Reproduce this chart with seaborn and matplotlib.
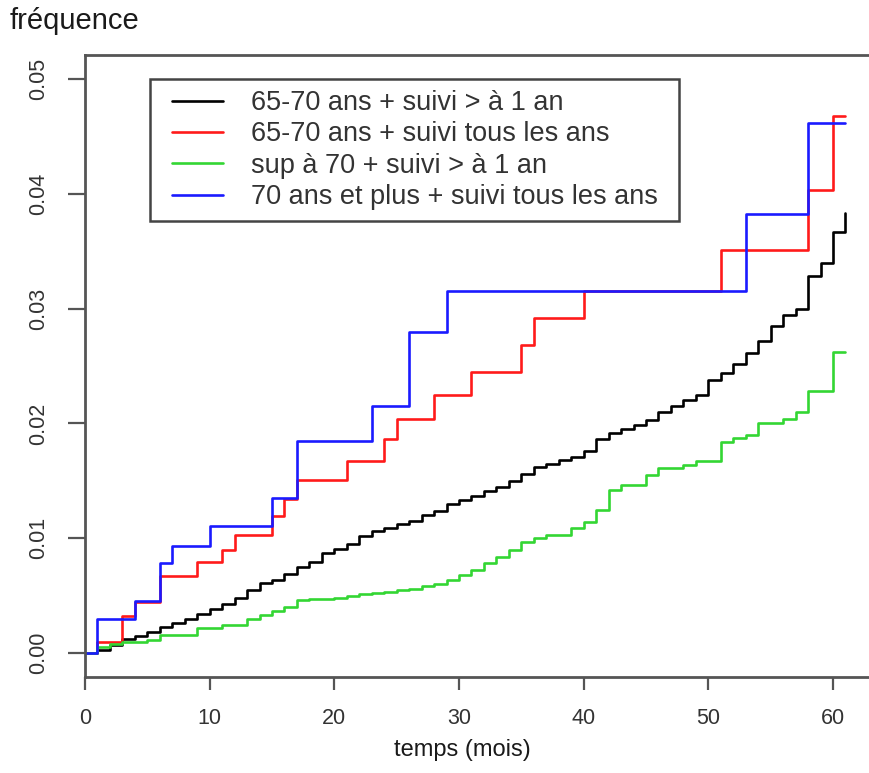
import matplotlib
matplotlib.use("Agg")
import matplotlib.pyplot as plt
import numpy as np
import pandas as pd
import seaborn as sns
from matplotlib.patches import Rectangle

# Monthly cumulative frequency, groups followed at intervals > 1 year
months = list(range(0, 62))
freq_6570_gt1 = [
    0.0000, 0.0003, 0.0007, 0.0012, 0.0015, 0.0018, 0.0023, 0.0026, 0.0030, 0.0034,
    0.0038, 0.0043, 0.0048, 0.0055, 0.0061, 0.0064, 0.0069, 0.0075, 0.0079, 0.0087,
    0.0091, 0.0095, 0.0102, 0.0106, 0.0109, 0.0112, 0.0115, 0.0120, 0.0124, 0.0130,
    0.0133, 0.0137, 0.0141, 0.0145, 0.0150, 0.0156, 0.0162, 0.0165, 0.0168, 0.0171,
    0.0176, 0.0186, 0.0192, 0.0195, 0.0199, 0.0203, 0.0210, 0.0215, 0.0220, 0.0225,
    0.0238, 0.0244, 0.0252, 0.0261, 0.0272, 0.0285, 0.0294, 0.0300, 0.0328, 0.0340,
    0.0367, 0.0383,
]
freq_sup70_gt1 = [
    0.0000, 0.0005, 0.0008, 0.0010, 0.0010, 0.0011, 0.0016, 0.0016, 0.0016, 0.0022,
    0.0022, 0.0024, 0.0024, 0.0030, 0.0033, 0.0037, 0.0040, 0.0046, 0.0047, 0.0047,
    0.0048, 0.0050, 0.0051, 0.0052, 0.0053, 0.0055, 0.0056, 0.0058, 0.0060, 0.0064,
    0.0068, 0.0072, 0.0078, 0.0084, 0.0090, 0.0097, 0.0100, 0.0103, 0.0103, 0.0109,
    0.0114, 0.0125, 0.0142, 0.0146, 0.0146, 0.0155, 0.0161, 0.0161, 0.0164, 0.0167,
    0.0167, 0.0184, 0.0187, 0.0190, 0.0200, 0.0200, 0.0204, 0.0210, 0.0228, 0.0228,
    0.0262, 0.0262,
]

# Groups followed every year: event times and cumulative frequency
t_6570_annual = [0, 1, 3, 4, 6, 9, 11, 12, 15, 16, 17, 21, 24, 25, 28, 31, 35, 36, 40, 51, 58, 60, 61]
freq_6570_annual = [0.0000, 0.0010, 0.0032, 0.0044, 0.0067, 0.0079, 0.0090, 0.0103, 0.0119,
                    0.0134, 0.0151, 0.0167, 0.0186, 0.0204, 0.0225, 0.0245, 0.0268, 0.0292,
                    0.0315, 0.0351, 0.0403, 0.0468, 0.0468]
t_70plus_annual = [0, 1, 4, 6, 7, 10, 15, 17, 23, 26, 29, 53, 58, 61]
freq_70plus_annual = [0.0000, 0.0030, 0.0045, 0.0078, 0.0093, 0.0111, 0.0135, 0.0185,
                      0.0215, 0.0280, 0.0315, 0.0382, 0.0462, 0.0462]

groups = [
    "65-70 ans + suivi > à 1 an",
    "65-70 ans + suivi tous les ans",
    "sup à 70 + suivi > à 1 an",
    "70 ans et plus + suivi tous les ans",
]
colors = ["#000000", "#ff1a1a", "#33d633", "#1a1aff"]

x_ticks = [0, 10, 20, 30, 40, 50, 60]
y_ticks = [0.00, 0.01, 0.02, 0.03, 0.04, 0.05]

frames = [
    pd.DataFrame({"t": months, "f": freq_6570_gt1, "groupe": groups[0]}),
    pd.DataFrame({"t": t_6570_annual, "f": freq_6570_annual, "groupe": groups[1]}),
    pd.DataFrame({"t": months, "f": freq_sup70_gt1, "groupe": groups[2]}),
    pd.DataFrame({"t": t_70plus_annual, "f": freq_70plus_annual, "groupe": groups[3]}),
]
data = pd.concat(frames, ignore_index=True)

sns.set_style("white")
plt.rcParams["font.family"] = ["Liberation Sans", "DejaVu Sans"]

W, H = 869, 773
fig = plt.figure(figsize=(W / 100, H / 100), dpi=100)
left_px, right_px, top_px, bottom_px = 85, 880, 55, 677
ax = fig.add_axes([left_px / W, 1 - bottom_px / H,
                   (right_px - left_px) / W, (bottom_px - top_px) / H])

sns.lineplot(data=data, x="t", y="f", hue="groupe", hue_order=groups,
             palette=colors, drawstyle="steps-post", estimator=None,
             linewidth=1.9, legend=False, ax=ax)

px_per_month = (833 - 85) / 60
ax.set_xlim(0, (right_px - left_px) / px_per_month)
px_per_unit = (653 - 79) / 0.05
ax.set_ylim(-(bottom_px - 653) / px_per_unit, 0.05 + (79 - top_px) / px_per_unit)

ax.set_xticks(x_ticks)
ax.set_xticklabels([f"{v:d}" for v in x_ticks])
ax.set_yticks(y_ticks)
ax.set_yticklabels([f"{v:.2f}" for v in y_ticks], rotation=90, va="center")

ax.tick_params(axis="x", length=9.5, width=1.6, color="#555555", pad=13,
               labelsize=15.5, labelcolor="#333333", direction="out", bottom=True)
ax.tick_params(axis="y", length=12, width=1.6, color="#555555", pad=14,
               labelsize=15.5, labelcolor="#333333", direction="out", left=True)
for side in ["left", "bottom", "top", "right"]:
    ax.spines[side].set_color("#555555")
    ax.spines[side].set_linewidth(2.0)

ax.set_xlabel("")
ax.set_ylabel("")
fig.text(462 / W, 1 - 750 / H, "temps (mois)", fontsize=17, color="#1a1a1a",
         ha="center", va="center")
fig.text(10 / W, 1 - 21 / H, "fréquence", fontsize=21, color="#1a1a1a",
         ha="left", va="center")

handles = ax.get_lines()[:4]
leg = ax.legend(handles, groups, loc="upper left",
                bbox_to_anchor=(172 / W, 1 - 90 / H), bbox_transform=fig.transFigure,
                frameon=False, fontsize=19.5, handlelength=1.9, handletextpad=1.0,
                labelspacing=0.2, borderpad=0.0, borderaxespad=0.0)
for t in leg.get_texts():
    t.set_color("#333333")
for h in leg.legend_handles:
    h.set_linewidth(1.9)

# frame drawn around the legend with wider horizontal padding
fig.canvas.draw()
bb = leg.get_window_extent()
pad_x, pad_y = 22, 11
rect = Rectangle((bb.x0 - pad_x, bb.y0 - pad_y), bb.width + 2 * pad_x, bb.height + 2 * pad_y,
                 transform=None, fill=False, edgecolor="#444444", linewidth=1.8, zorder=5)
fig.add_artist(rect)

fig.savefig("out.png", dpi=100)
